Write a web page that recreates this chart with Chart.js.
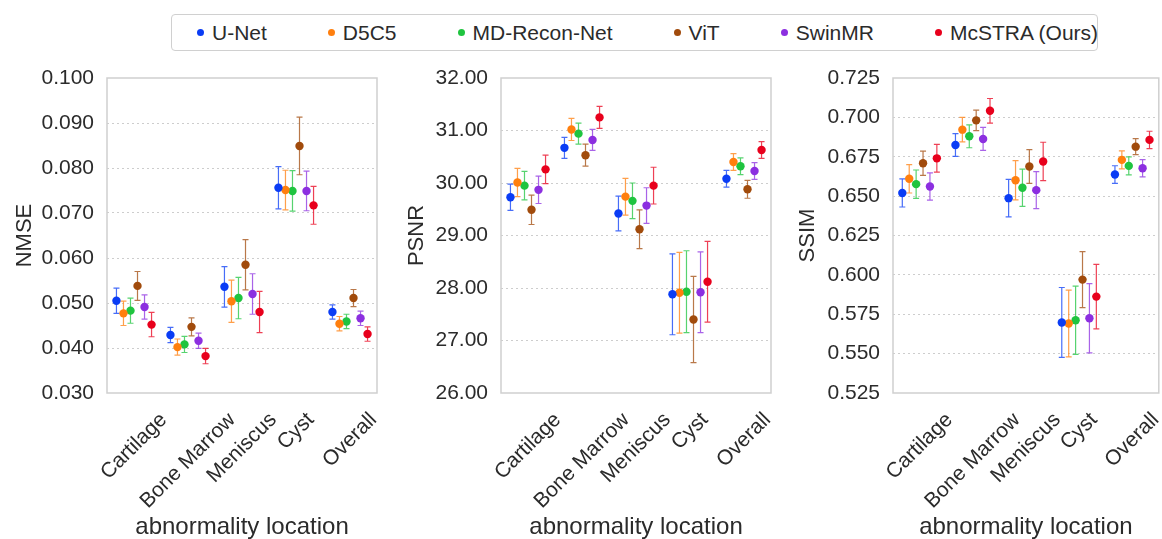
<!DOCTYPE html>
<html lang="en">
<head>
  <meta charset="UTF-8" />
  <title>Abnormality location metrics</title>
  <script src="https://cdn.jsdelivr.net/npm/chart.js"></script>
  <style>
    html, body { margin: 0; padding: 0; background: #fff; overflow: hidden; }
    body { width: 1162px; height: 539px; position: relative; font-family: "Liberation Sans", Arial, sans-serif; color: #2b2b2b; }
    .panel { position: absolute; top: 0; height: 539px; }
    #legend {
      position: absolute; left: 171px; top: 14px; width: 927px; height: 37px;
      border: 1.5px solid #d0d0d0; border-radius: 4px;
      display: flex; align-items: center;
      padding-left: 25px; box-sizing: border-box;
      font-size: 21px;
    }
    .item { display: flex; align-items: center; margin-right: 61px; white-space: nowrap; }
    .item:last-child { margin-right: 0; }
    .dot { width: 7px; height: 7px; border-radius: 50%; margin-right: 8px; }
  </style>
</head>
<body>
  <div id="legend"></div>
  <div class="panel" style="left:0px;width:385px"><canvas id="nmseChart" width="385" height="539"></canvas></div>
  <div class="panel" style="left:390px;width:386px"><canvas id="psnrChart" width="386" height="539"></canvas></div>
  <div class="panel" style="left:780px;width:383px"><canvas id="ssimChart" width="383" height="539"></canvas></div>

<script>
  // categories + methods
  const categories = ["Cartilage", "Bone Marrow", "Meniscus", "Cyst", "Overall"];
  const methods = ["U-Net", "D5C5", "MD-Recon-Net", "ViT", "SwinMR", "McSTRA (Ours)"];
  const colors = ["#0a3cf5", "#ff7f0e", "#1fc43f", "#a14b0c", "#8c2fe0", "#e8001c"];

  // NMSE (rows = methods, cols = categories)
  const nmseMean = [
    [0.0505, 0.0429, 0.0536, 0.0756, 0.0480],
    [0.0477, 0.0402, 0.0504, 0.0751, 0.0454],
    [0.0483, 0.0408, 0.0511, 0.0749, 0.0459],
    [0.0538, 0.0447, 0.0585, 0.0849, 0.0511],
    [0.0491, 0.0416, 0.0520, 0.0749, 0.0466],
    [0.0452, 0.0382, 0.0480, 0.0717, 0.0431]
  ];
  const nmseErr = [
    [0.0028, 0.0017, 0.0045, 0.0047, 0.0016],
    [0.0027, 0.0018, 0.0047, 0.0044, 0.0016],
    [0.0028, 0.0018, 0.0046, 0.0045, 0.0016],
    [0.0032, 0.0020, 0.0056, 0.0064, 0.0019],
    [0.0027, 0.0017, 0.0045, 0.0044, 0.0016],
    [0.0027, 0.0017, 0.0046, 0.0042, 0.0016]
  ];
  const nmseTicks = [0.030, 0.040, 0.050, 0.060, 0.070, 0.080, 0.090, 0.100];

  // PSNR
  const psnrMean = [
    [29.73, 30.67, 29.42, 27.88, 30.08],
    [30.01, 31.02, 29.74, 27.91, 30.40],
    [29.95, 30.94, 29.66, 27.93, 30.32],
    [29.49, 30.53, 29.12, 27.40, 29.88],
    [29.87, 30.82, 29.57, 27.92, 30.23],
    [30.26, 31.25, 29.95, 28.12, 30.63]
  ];
  const psnrErr = [
    [0.25, 0.20, 0.33, 0.77, 0.16],
    [0.27, 0.21, 0.35, 0.77, 0.16],
    [0.27, 0.20, 0.34, 0.78, 0.16],
    [0.28, 0.21, 0.37, 0.82, 0.17],
    [0.26, 0.20, 0.34, 0.77, 0.16],
    [0.27, 0.21, 0.35, 0.77, 0.16]
  ];
  const psnrTicks = [26, 27, 28, 29, 30, 31, 32];

  // SSIM
  const ssimMean = [
    [0.6520, 0.6825, 0.6487, 0.5698, 0.6637],
    [0.6610, 0.6922, 0.6601, 0.5691, 0.6730],
    [0.6576, 0.6880, 0.6553, 0.5712, 0.6692],
    [0.6709, 0.6981, 0.6688, 0.5970, 0.6814],
    [0.6561, 0.6863, 0.6538, 0.5725, 0.6677],
    [0.6740, 0.7042, 0.6720, 0.5862, 0.6857]
  ];
  const ssimErr = [
    [0.0089, 0.0072, 0.0119, 0.0222, 0.0056],
    [0.0090, 0.0078, 0.0125, 0.0212, 0.0057],
    [0.0090, 0.0073, 0.0118, 0.0217, 0.0057],
    [0.0077, 0.0065, 0.0107, 0.0178, 0.0051],
    [0.0087, 0.0073, 0.0117, 0.0220, 0.0055],
    [0.0088, 0.0078, 0.0122, 0.0205, 0.0055]
  ];
  const ssimTicks = [0.525, 0.550, 0.575, 0.600, 0.625, 0.650, 0.675, 0.700, 0.725];

  const FONT = '"Liberation Sans", Arial, sans-serif';
  const TEXT = '#2b2b2b';
  const dodge = 0.13;

  // html legend
  const legendEl = document.getElementById('legend');
  methods.forEach((m, j) => {
    const it = document.createElement('div');
    it.className = 'item';
    it.innerHTML = '<span class="dot" style="background:' + colors[j] + '"></span><span>' + m + '</span>';
    legendEl.appendChild(it);
  });

  function withAlpha(hex, a) {
    const n = parseInt(hex.slice(1), 16);
    return `rgba(${(n >> 16) & 255},${(n >> 8) & 255},${n & 255},${a})`;
  }

  // error bars, drawn under the dots
  const errorBars = {
    id: 'errorBars',
    beforeDatasetsDraw(chart) {
      const ctx = chart.ctx, ys = chart.scales.y;
      chart.data.datasets.forEach((ds, j) => {
        const meta = chart.getDatasetMeta(j);
        ctx.save();
        ctx.strokeStyle = withAlpha(colors[j], 0.75);
        ctx.lineWidth = 1.2;
        meta.data.forEach((pt, i) => {
          const v = ds.data[i].y, e = ds.errs[i];
          const y1 = ys.getPixelForValue(v + e), y2 = ys.getPixelForValue(v - e);
          ctx.beginPath();
          ctx.moveTo(pt.x, y1); ctx.lineTo(pt.x, y2);
          ctx.moveTo(pt.x - 3, y1); ctx.lineTo(pt.x + 3, y1);
          ctx.moveTo(pt.x - 3, y2); ctx.lineTo(pt.x + 3, y2);
          ctx.stroke();
        });
        ctx.restore();
      });
    }
  };

  // frame + rotated category labels (centred like the original)
  const frameAndLabels = {
    id: 'frameAndLabels',
    afterDraw(chart) {
      const ctx = chart.ctx, a = chart.chartArea, xs = chart.scales.x;
      ctx.save();
      ctx.strokeStyle = '#cfcfcf';
      ctx.lineWidth = 1.5;
      ctx.strokeRect(a.left, a.top, a.right - a.left, a.bottom - a.top);
      const size = 21;
      ctx.font = size + 'px ' + FONT;
      ctx.fillStyle = TEXT;
      ctx.textAlign = 'center';
      ctx.textBaseline = 'middle';
      categories.forEach((c, i) => {
        const w = ctx.measureText(c).width;
        const bh = (w + size * 0.75) * Math.SQRT1_2;
        const x = xs.getPixelForValue(i);
        const y = a.bottom + 18 + bh / 2;
        ctx.save();
        ctx.translate(x, y);
        ctx.rotate(-Math.PI / 4);
        ctx.fillText(c, 0, 0);
        ctx.restore();
      });
      ctx.restore();
    }
  };

  function makePanel(id, title, means, errs, ticks, digits, axisW, titlePad, rightPad) {
    const datasets = methods.map((m, j) => ({
      label: m,
      data: categories.map((c, i) => ({ x: i + (j - 2.5) * dodge, y: means[j][i] })),
      errs: errs[j],
      backgroundColor: colors[j],
      borderColor: colors[j],
      pointRadius: 4.2,
      pointBorderWidth: 0,
      showLine: false
    }));
    new Chart(document.getElementById(id), {
      type: 'scatter',
      data: { datasets },
      options: {
        responsive: false,
        animation: false,
        events: [],
        layout: { padding: { top: 78, right: rightPad, bottom: 0, left: 0 } },
        plugins: { legend: { display: false }, tooltip: { enabled: false } },
        scales: {
          x: {
            type: 'linear',
            min: -0.5, max: 4.5,
            grid: { display: false },
            border: { display: false },
            ticks: { display: false },
            title: {
              display: true, text: 'abnormality location', color: TEXT,
              font: { family: FONT, size: 24, lineHeight: 1 }, padding: 0
            },
            afterFit(s) { s.height = 146; }
          },
          y: {
            min: ticks[0], max: ticks[ticks.length - 1],
            afterBuildTicks(s) { s.ticks = ticks.map(v => ({ value: v })); },
            grid: {
              drawTicks: false,
              lineWidth: 1,
              color: ctx => (ctx.index === 0 || ctx.index === ticks.length - 1) ? 'rgba(0,0,0,0)' : '#cdcdcd'
            },
            border: { display: false, dash: [2, 3] },
            ticks: {
              padding: 13, color: TEXT,
              font: { family: FONT, size: 21 },
              callback: v => Number(v).toFixed(digits)
            },
            title: {
              display: true, text: title, color: TEXT,
              font: { family: FONT, size: 22, lineHeight: 1.2 },
              padding: { top: titlePad, bottom: 0 }
            },
            afterFit(s) { s.width = axisW; }
          }
        }
      },
      plugins: [errorBars, frameAndLabels]
    });
  }

  makePanel('nmseChart', 'NMSE', nmseMean, nmseErr, nmseTicks, 3, 107, 11.5, 8);
  makePanel('psnrChart', 'PSNR', psnrMean, psnrErr, psnrTicks, 2, 111, 13.5, 5);
  makePanel('ssimChart', 'SSIM', ssimMean, ssimErr, ssimTicks, 3, 113, 15, 0);
</script>
</body>
</html>
